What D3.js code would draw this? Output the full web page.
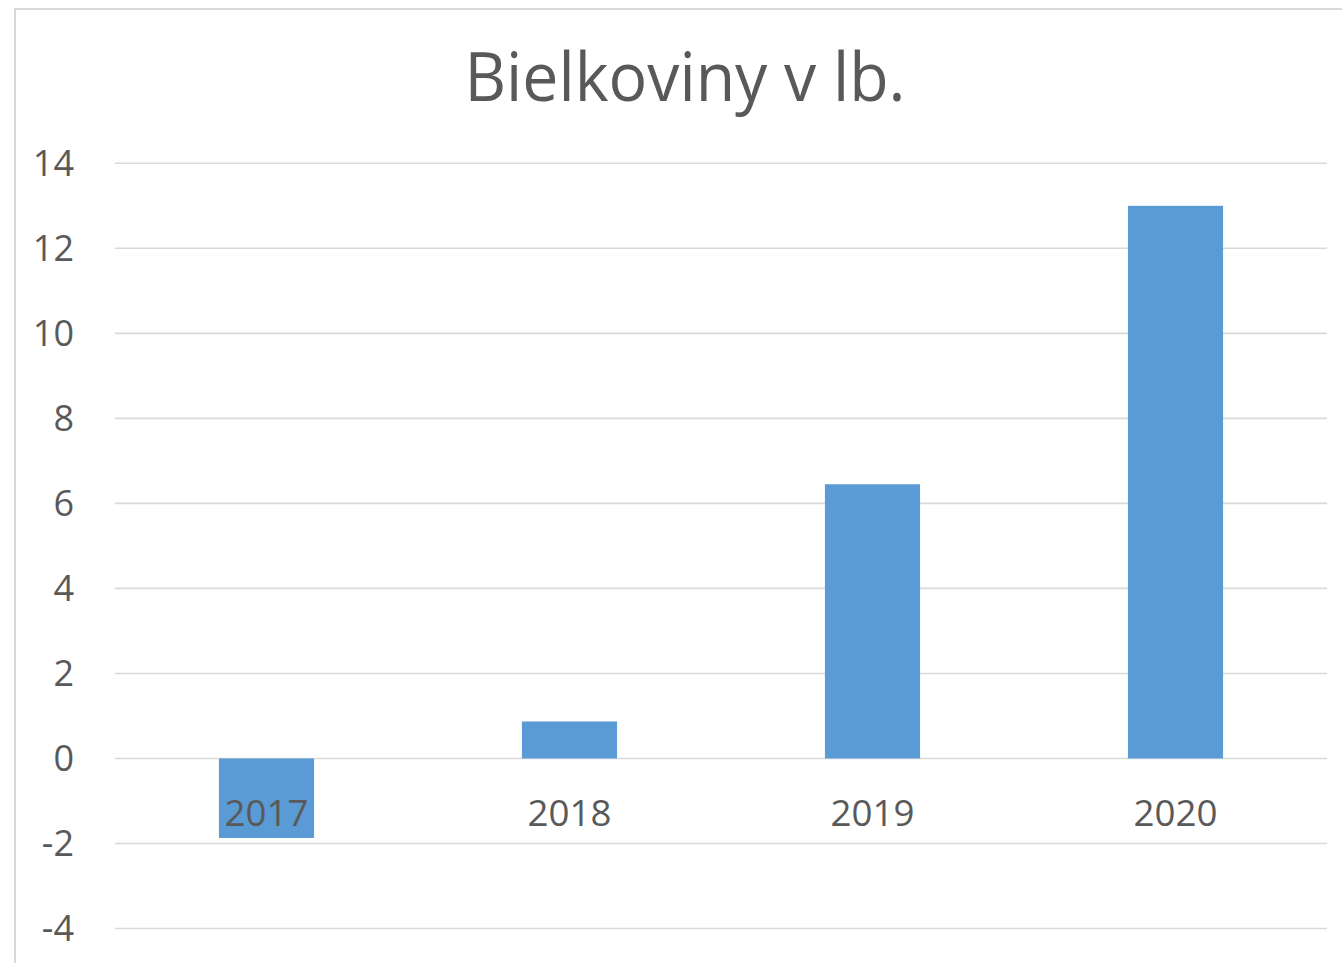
<!DOCTYPE html>
<html><head><meta charset="utf-8">
<script src="https://cdn.jsdelivr.net/npm/d3@7"></script>
<style>html,body{margin:0;padding:0;background:#fff;overflow:hidden}</style>
</head><body>
<script>
const categories = ["2017","2018","2019","2020"];
const values = [-1.87, 0.87, 6.45, 13.0];
const yTicks = [-4,-2,0,2,4,6,8,10,12,14];
const title = "Bielkoviny v lb.";

const W = 1342, H = 963;
const svg = d3.select("body").append("svg").attr("width", W).attr("height", H);
const font = "'Open Sans', 'Noto Sans', sans-serif";
const textColor = "#595959";

svg.append("rect").attr("x",15).attr("y",9).attr("width",1400).attr("height",1000)
  .attr("fill","#fff").attr("stroke","#d9d9d9").attr("stroke-width",2);

const x = d3.scaleBand().domain(categories).range([115,1327]).paddingInner(0.686).paddingOuter(0.343);
const y = d3.scaleLinear().domain([-4,14]).range([928.5,163.3]);

svg.append("g").selectAll("line").data(yTicks).join("line")
  .attr("x1",115).attr("x2",1327)
  .attr("y1",d=>y(d)).attr("y2",d=>y(d))
  .attr("stroke","#d9d9d9").attr("stroke-width",1.6);

svg.append("g").selectAll("text").data(yTicks).join("text")
  .attr("x",74).attr("y",d=>y(d)).attr("dy","0.36em")
  .attr("text-anchor","end").attr("font-family",font).attr("font-size",36)
  .attr("fill",textColor).text(d=>d);

svg.append("g").selectAll("rect").data(categories).join("rect")
  .attr("x",d=>x(d)).attr("width",x.bandwidth())
  .attr("y",(d,i)=>y(Math.max(0,values[i])))
  .attr("height",(d,i)=>Math.abs(y(values[i])-y(0)))
  .attr("fill","#5b9bd5");

svg.append("g").selectAll("text").data(categories).join("text")
  .attr("x",d=>x(d)+x.bandwidth()/2).attr("y",813).attr("dy","0.36em")
  .attr("text-anchor","middle").attr("font-family",font).attr("font-size",37)
  .attr("fill",textColor).attr("textLength",84).attr("lengthAdjust","spacingAndGlyphs")
  .text(d=>d);

svg.append("text").attr("x",685).attr("y",101)
  .attr("text-anchor","middle").attr("font-family",font).attr("font-size",67)
  .attr("fill",textColor).attr("textLength",441).attr("lengthAdjust","spacingAndGlyphs")
  .text(title);
</script>
</body></html>
